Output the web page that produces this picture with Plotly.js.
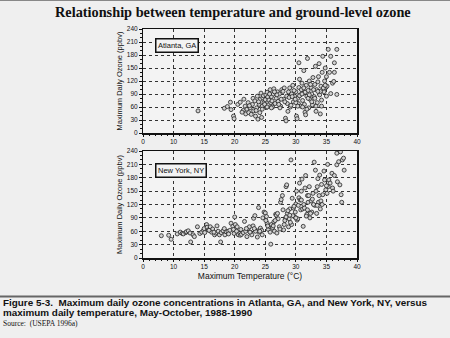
<!DOCTYPE html>
<html><head><meta charset="utf-8">
<script src="https://cdn.plot.ly/plotly-3.0.1.min.js"></script>
<style>html,body{margin:0;padding:0;background:#efefef;}#c{width:450px;height:338px;}</style>
</head><body><div id="c"></div>
<script>
// Atlanta, GA: max daily temperature (°C) and max daily ozone (ppbv)
const atlTemp = [14.0,18.3,18.8,19.3,19.4,19.8,19.9,20.5,20.9,21.4,21.5,21.7,21.8,22.0,22.2,22.3,22.5,22.7,22.9,23.0,23.1,23.3,23.4,23.6,23.7,23.8,24.0,24.1,24.2,24.3,24.4,24.5,24.6,24.7,24.8,25.0,25.1,25.2,25.3,25.4,25.5,25.6,25.8,25.9,26.0,26.2,26.3,26.4,26.6,26.8,27.0,27.1,27.3,27.5,27.7,28.0,28.1,28.3,28.4,28.5,28.6,28.8,29.0,29.1,29.3,29.5,29.6,29.8,30.0,30.1,30.2,30.3,30.4,30.5,30.5,30.6,30.7,30.8,30.9,31.0,31.1,31.2,31.3,31.4,31.5,31.6,31.7,31.8,31.9,32.0,32.1,32.2,32.3,32.5,32.6,32.7,32.8,33.0,33.1,33.2,33.3,33.4,33.5,33.6,33.8,33.9,34.0,34.1,34.2,34.3,34.4,34.6,34.7,34.8,34.9,35.0,35.1,35.3,35.5,35.7,35.7,36.0,36.2,36.3,36.3,36.7,36.7,
  22.4,23.5,24.9,25.7,26.1,26.9,27.4,27.9,28.2,28.9,29.2,29.7,30.0,30.6,31.1,31.5,32.0,32.4,32.9,33.3,33.7,34.2,34.5,35.0,
  21.2,23.9,24.5,25.3,26.5,27.6,28.7,29.4,30.3,31.0,31.8,32.6,33.1,34.0,34.8,26.0,27.2,29.9,31.3,32.2,33.6];
const atlOzone = [51,57,61,71,54,39,33,66,71,52,78,62,44,55,70,47,58,43,66,80,51,74,39,58,85,32,66,47,78,92,36,62,81,86,70,77,88,59,94,83,65,76,100,70,84,60,90,102,68,80,95,73,90,62,100,78,104,34,28,85,68,95,104,60,90,110,72,85,95,39,33,80,68,105,162,124,88,62,100,115,75,92,144,66,48,42,110,85,172,98,58,120,78,105,90,65,128,84,112,154,50,100,70,118,160,88,44,108,62,140,177,95,120,150,105,130,108,193,140,91,177,115,119,162,140,89,193,
  63,52,66,90,74,88,58,96,72,82,64,98,70,86,60,94,80,112,100,62,130,76,104,85,
  48,72,55,60,95,78,50,84,62,90,55,72,80,96,110,58,66,78,104,88,96];

// New York, NY
const nyTemp = [8.0,9.2,9.6,10.6,11.1,11.4,11.6,12.0,12.1,12.4,12.7,12.8,13.2,13.4,13.9,14.3,14.6,14.9,15.0,15.1,15.4,15.5,15.7,16.0,16.2,16.4,16.7,16.9,17.1,17.3,17.5,17.7,17.8,18.1,18.4,18.6,18.9,19.2,19.4,19.7,19.8,19.9,20.0,20.1,20.3,20.6,20.9,21.1,21.4,21.6,21.8,22.0,22.2,22.4,22.6,22.8,23.0,23.1,23.3,23.5,23.7,23.9,24.0,24.2,24.4,24.6,24.8,25.0,25.2,25.3,25.5,25.7,25.9,26.0,26.2,26.4,26.5,26.7,26.9,27.1,27.3,27.5,27.6,27.8,28.0,28.1,28.3,28.4,28.5,28.6,28.8,29.0,29.2,29.3,29.4,29.6,29.8,29.9,30.0,30.1,30.2,30.4,30.5,30.6,30.8,30.9,31.0,31.2,31.3,31.5,31.6,31.8,31.9,32.0,32.2,32.3,32.5,32.6,32.8,33.0,33.1,33.2,33.3,33.4,33.6,33.7,33.9,34.0,34.2,34.4,34.6,34.9,35.1,35.2,35.4,35.6,35.9,36.0,36.3,36.7,36.7,36.8,37.0,37.2,37.3,37.4,37.5,37.6,37.8,37.9,
  15.8,16.6,18.3,19.0,20.4,21.0,21.9,22.5,23.4,24.5,25.1,25.8,26.3,26.8,27.4,28.2,28.7,29.1,29.5,30.3,30.7,31.1,31.7,32.1,32.9,33.5,34.1,34.7,35.3,36.1,
  24.1,25.4,26.6,27.0,27.9,28.9,29.7,30.0,30.9,31.4,32.4,33.8,34.3,35.0,23.2,28.4,29.0,31.9,32.7,33.5];
const nyOzone = [50,51,42,54,58,55,54,57,59,61,56,36,52,48,70,55,58,62,66,57,75,69,63,70,58,65,52,56,72,60,52,36,57,61,52,59,60,62,78,71,64,55,92,75,60,52,51,53,57,82,60,48,66,70,57,52,72,89,95,62,47,113,58,67,62,90,103,101,93,78,64,71,31,75,68,81,60,98,56,88,70,125,131,140,63,75,89,160,164,100,70,110,220,75,134,112,92,103,121,150,85,118,135,168,108,150,177,71,120,157,185,98,140,125,160,90,128,103,145,215,118,197,150,100,178,125,186,110,165,142,195,153,145,210,175,168,190,157,185,235,209,171,216,164,238,142,125,220,224,197,
  62,58,66,54,70,64,66,58,60,52,84,58,72,96,65,84,106,80,95,88,130,110,94,140,120,160,128,175,160,150,
  60,72,84,100,108,88,116,90,130,112,100,140,120,162,66,92,96,108,132,118];

const xTickVals = [5,10,15,20,25,30,35,40];
const xTickText = ['0','10','15','20','25','30','35','40'];
const yTickVals = [0,30,60,90,120,150,180,210,240];

const W=450,H=338;
const px = x => x/W, py = y => 1 - y/H;

const marker = {symbol:'circle', size:4, color:'#d2d2d2', line:{color:'#222', width:0.8}};
const tickFont = {family:'Liberation Sans, Arial, sans-serif', size:6.5, color:'#111'};
const titleFont = {family:'Liberation Sans, Arial, sans-serif', size:7.5, color:'#111'};

function xax(showTitle){
  const a = {domain:[px(143),px(357)], range:[5,40], tickvals:xTickVals, ticktext:xTickText,
    showgrid:true, gridcolor:'#333', griddash:'dot', gridwidth:1,
    showline:true, mirror:true, linecolor:'#111', linewidth:1.5,
    ticks:'outside', ticklen:2, tickcolor:'#111', tickfont:tickFont, zeroline:false,
    minor:{dtick:1, tick0:5, ticks:'outside', ticklen:1.5, tickcolor:'#111', showgrid:false},
    fixedrange:true};
  if (showTitle) a.title = {text:'Maximum Temperature (°C)', font:{family:'Liberation Sans, Arial, sans-serif', size:8.5, color:'#111'}, standoff:4};
  return a;
}
function yax(domain, anchor){
  return {domain:domain, range:[0,240], tickvals:yTickVals, anchor:anchor,
    showgrid:true, gridcolor:'#333', griddash:'dot', gridwidth:1,
    showline:true, mirror:true, linecolor:'#111', linewidth:1.5,
    ticks:'outside', ticklen:2.5, tickcolor:'#111', tickfont:tickFont, zeroline:false,
    minor:{dtick:10, ticks:'outside', ticklen:1.5, tickcolor:'#111', showgrid:false},
    title:{text:'Maximum Daily Ozone (ppbv)', font:titleFont, standoff:3},
    fixedrange:true};
}

const data = [
  {x:atlTemp, y:atlOzone, type:'scatter', mode:'markers', marker:marker, xaxis:'x', yaxis:'y', hoverinfo:'skip'},
  {x:nyTemp, y:nyOzone, type:'scatter', mode:'markers', marker:marker, xaxis:'x2', yaxis:'y2', hoverinfo:'skip'}
];

const boxFont = {family:'Liberation Sans, Arial, sans-serif', size:7.5, color:'#111'};
const layout = {
  width:W, height:H, margin:{l:0,r:0,t:0,b:0},
  paper_bgcolor:'#efefef', plot_bgcolor:'#f3f3f3', showlegend:false,
  xaxis: Object.assign(xax(false), {anchor:'y'}),
  yaxis: yax([py(133),py(29)], 'x'),
  xaxis2: Object.assign(xax(true), {anchor:'y2'}),
  yaxis2: yax([py(258),py(151)], 'x2'),
  annotations:[
    {text:'<b>Relationship between temperature and ground-level ozone</b>', x:px(233), y:py(12), xref:'paper', yref:'paper', showarrow:false, xanchor:'center', yanchor:'middle',
     font:{family:'Liberation Serif, Times New Roman, serif', size:14.3, color:'#111'}},
    {text:'Atlanta, GA', x:7, y:203, xref:'x', yref:'y', xanchor:'left', yanchor:'middle', showarrow:false,
     font:boxFont, bgcolor:'#f3f3f3', bordercolor:'#111', borderwidth:1.5, borderpad:1.5},
    {text:'New York, NY', x:7, y:197, xref:'x2', yref:'y2', xanchor:'left', yanchor:'middle', showarrow:false,
     font:boxFont, bgcolor:'#f3f3f3', bordercolor:'#111', borderwidth:1.5, borderpad:1.5},
    {text:'<b>Figure 5-3.  Maximum daily ozone concentrations in Atlanta, GA, and New York, NY, versus</b>', x:px(1), y:py(302), xref:'paper', yref:'paper', showarrow:false, xanchor:'left', yanchor:'middle',
     font:{family:'Liberation Sans, Arial, sans-serif', size:9.9, color:'#111'}},
    {text:'<b>maximum daily temperature, May-October, 1988-1990</b>', x:px(1), y:py(312), xref:'paper', yref:'paper', showarrow:false, xanchor:'left', yanchor:'middle',
     font:{family:'Liberation Sans, Arial, sans-serif', size:9.9, color:'#111'}},
    {text:'Source:  (USEPA 1996a)', x:px(1), y:py(323), xref:'paper', yref:'paper', showarrow:false, xanchor:'left', yanchor:'middle',
     font:{family:'Liberation Serif, Times New Roman, serif', size:7.5, color:'#111'}}
  ],
  shapes:[
    {type:'line', xref:'paper', yref:'paper', x0:0, x1:1, y0:py(296.5), y1:py(296.5), line:{color:'#666', width:2}},
    {type:'line', xref:'paper', yref:'paper', x0:0, x1:1, y0:py(0.5), y1:py(0.5), line:{color:'#888', width:1}}
  ]
};
Plotly.newPlot('c', data, layout, {staticPlot:true, displayModeBar:false});
</script></body></html>
